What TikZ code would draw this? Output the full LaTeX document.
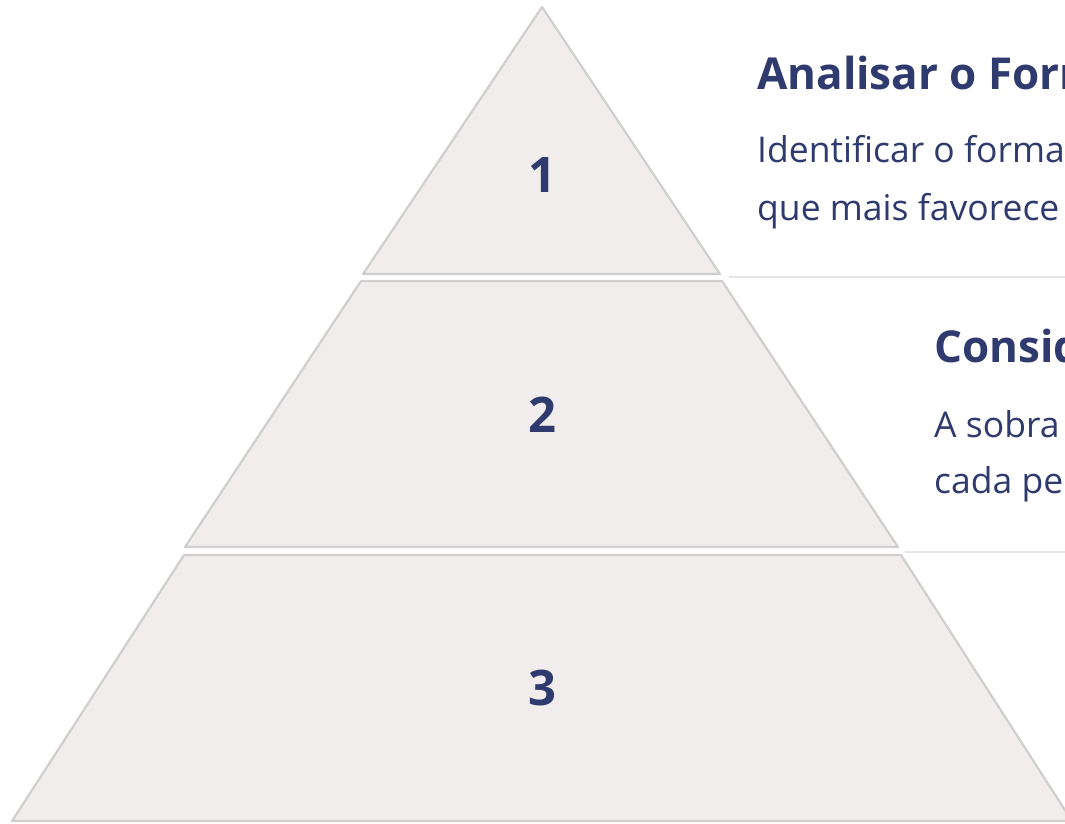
\documentclass[tikz,border=0pt]{standalone}
\usepackage{fontspec}
\setmainfont{Open Sans}
\usetikzlibrary{positioning}
\definecolor{tierfill}{RGB}{240,237,236}
\definecolor{tierline}{RGB}{208,206,206}
\definecolor{navy}{RGB}{47,59,110}
\definecolor{rulegray}{RGB}{229,229,229}
\tikzset{
  every picture/.style={
    x=1pt, y=-1pt
  },
  tier/.style={
    fill=tierfill, draw=tierline,
    line width=2.2pt, line join=round
  },
  num/.style={
    text=navy, inner sep=0pt,
    font=\fontsize{49}{49}\selectfont\bfseries
  },
  title/.style={
    text=navy, inner sep=0pt, anchor=base west,
    font=\fontsize{44}{44}\selectfont\bfseries
  },
  body/.style={
    text=navy, inner sep=0pt, anchor=base west,
    font=\fontsize{35.5}{35.5}\selectfont
  },
  sep/.style={
    draw=rulegray, line width=2pt
  }
}
\begin{document}
\begin{tikzpicture}
    \useasboundingbox (0,0) rectangle (1065,823);
    % tiers, top to bottom
    \draw[tier] (542,7) coordinate (apex) -- (720,274) coordinate (t1r)
      -- (363,274) coordinate (t1l) -- cycle;
    \draw[tier] (361,281) coordinate (t2a) -- (722,281) coordinate (t2b)
      -- (898,547) coordinate (t2r) -- (185,547) coordinate (t2l) -- cycle;
    \draw[tier] (184,555) coordinate (t3a) -- (901,555) coordinate (t3b)
      -- (1072,821) coordinate (t3r) -- (12,821) coordinate (t3l) -- cycle;
    \node [num] (n1) at (542,175) {1};
    \node [num] (n2) at (542,415) {2};
    \node [num] (n3) at (542,688) {3};
    % separators
    \coordinate (s1a) at (729,277);
    \coordinate (s1b) at (1070,277);
    \coordinate (s2a) at (905,552);
    \coordinate (s2b) at (1070,552);
    \draw[sep] (s1a) -- (s1b);
    \draw[sep] (s2a) -- (s2b);
    % texts
    \node [title] (h1) at (757,89) {Analisar o Form};
    \node [body] (b1a) at (757,162) {Identificar o forma};
    \node [body] (b1b) at (757,220) {que mais favorece};
    \node [title] (h2) at (934,362) {Consid};
    \node [body] (b2a) at (934,437) {A sobra};
    \node [body] (b2b) at (934,493) {cada pe};
\end{tikzpicture}
\end{document}
